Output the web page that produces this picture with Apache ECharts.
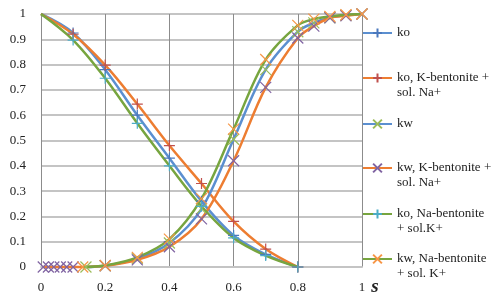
<!DOCTYPE html>
<html>
<head>
<meta charset="utf-8">
<script src="https://cdn.jsdelivr.net/npm/echarts@6/dist/echarts.min.js"></script>
<style>
  html, body { margin: 0; padding: 0; background: #fff; }
  #chart { width: 500px; height: 300px; }
</style>
</head>
<body>
<div id="chart"></div>
<script>
// saturation s
const xTicks = [0, 0.2, 0.4, 0.6, 0.8, 1]
const koX = [0, 0.1, 0.2, 0.3, 0.4, 0.5, 0.6, 0.7, 0.8]
const ko = [1, 0.925, 0.78, 0.60, 0.43, 0.26, 0.125, 0.05, 0]
const koK = [1, 0.92, 0.798, 0.644, 0.48, 0.33, 0.18, 0.071, 0]
const koNa = [1, 0.897, 0.746, 0.568, 0.40, 0.24, 0.115, 0.045, 0]

const kwX = [0.14, 0.2, 0.3, 0.4, 0.5, 0.6, 0.7, 0.8, 0.85, 0.9, 0.95, 1]
const kw = [0, 0.005, 0.033, 0.095, 0.23, 0.505, 0.78, 0.93, 0.965, 0.985, 0.995, 1]
const kwKX = [0.007, 0.023, 0.04, 0.06, 0.08, 0.1, 0.2, 0.3, 0.4, 0.5, 0.6, 0.7, 0.8, 0.85, 0.9, 0.95, 1]
const kwK = [0, 0, 0, 0, 0, 0, 0.005, 0.028, 0.08, 0.19, 0.42, 0.71, 0.905, 0.952, 0.985, 0.993, 1]
const kwNaX = [0.13, 0.2, 0.3, 0.4, 0.5, 0.6, 0.7, 0.8, 0.85, 0.9, 0.95, 1]
const kwNa = [0, 0.006, 0.038, 0.11, 0.27, 0.545, 0.82, 0.955, 0.98, 0.99, 0.997, 1]

const names = [
  'ko',
  'ko, K-bentonite +\nsol. Na+',
  'kw',
  'kw, K-bentonite +\nsol. Na+',
  'ko, Na-bentonite\n+ sol.K+',
  'kw, Na-bentonite\n+ sol. K+',
]

const PLUS = 'path://M0,5L10,5M5,0L5,10'
const CROSS = 'path://M0,0L10,10M10,0L0,10'
const font = 'Liberation Serif'

// no marker on the s = 0 points
function pairs(xs, ys) {
  return xs.map((x, i) => (x === 0 ? { value: [x, ys[i]], symbol: 'none' } : [x, ys[i]]))
}

// line colour, marker, marker colour
const styles = [
  ['#5b8fd0', PLUS, '#4a78bd'],
  ['#ed7d31', PLUS, '#c0504d'],
  ['#5b8fd0', CROSS, '#9bbb59'],
  ['#ed7d31', CROSS, '#8064a2'],
  ['#77a53f', PLUS, '#4bacc6'],
  ['#77a53f', CROSS, '#f79646'],
]
const seriesData = [
  pairs(koX, ko), pairs(koX, koK), pairs(kwX, kw),
  pairs(kwKX, kwK), pairs(koX, koNa), pairs(kwNaX, kwNa),
]

const series = seriesData.map((d, i) => ({
  name: names[i],
  type: 'line',
  data: d,
  smooth: 0.35,
  clip: false,
  symbol: styles[i][1],
  symbolSize: 11,
  lineStyle: { width: 2.5, color: styles[i][0] },
  itemStyle: { color: 'transparent', borderColor: styles[i][2], borderWidth: 1.2 },
  emphasis: { disabled: true },
}))

// legend rows: icon centre y for each item
const legendY = [33, 78, 124, 168, 214, 259]
const legend = names.map((n, i) => {
  const twoLine = n.includes('\n')
  return {
    data: [n],
    left: 362,
    top: legendY[i] - (twoLine ? 22.5 : 7.5),
    padding: 0,
    itemWidth: 29,
    itemHeight: 11,
    itemGap: 0,
    selectedMode: false,
    formatter: (name) => (name.includes('\n') ? '\n' + name : name),
    textStyle: { fontFamily: font, fontSize: 13, color: '#222', lineHeight: 15 },
  }
})

const chart = echarts.init(document.getElementById('chart'))
chart.setOption({
  animation: false,
  grid: { left: 41, right: 138, top: 14, bottom: 33 },
  legend: legend,
  xAxis: {
    type: 'value',
    min: 0,
    max: 1,
    interval: 0.2,
    name: 's',
    nameLocation: 'end',
    nameGap: 4,
    nameTextStyle: {
      fontFamily: font, fontSize: 19, fontStyle: 'italic', fontWeight: 'bold',
      color: '#222', verticalAlign: 'top', padding: [11, 0, 0, 0],
    },
    axisLine: { lineStyle: { color: '#c4c4c4', width: 2 } },
    axisTick: { show: false },
    axisLabel: {
      margin: 14, fontFamily: font, fontSize: 13, color: '#222',
      formatter: (v) => (xTicks.includes(Math.round(v * 10) / 10) ? String(Math.round(v * 10) / 10) : ''),
    },
    splitLine: { lineStyle: { color: '#8c8c8c', width: 1 } },
  },
  yAxis: {
    type: 'value',
    min: 0,
    max: 1,
    interval: 0.1,
    axisLine: { show: true, lineStyle: { color: '#8c8c8c', width: 1 } },
    axisTick: { show: false },
    axisLabel: {
      margin: 15, fontFamily: font, fontSize: 13, color: '#222',
      formatter: (v) => String(Math.round(v * 10) / 10),
    },
    splitLine: { lineStyle: { color: '#c4c4c4', width: 2 } },
  },
  series: series,
})
</script>
</body>
</html>
